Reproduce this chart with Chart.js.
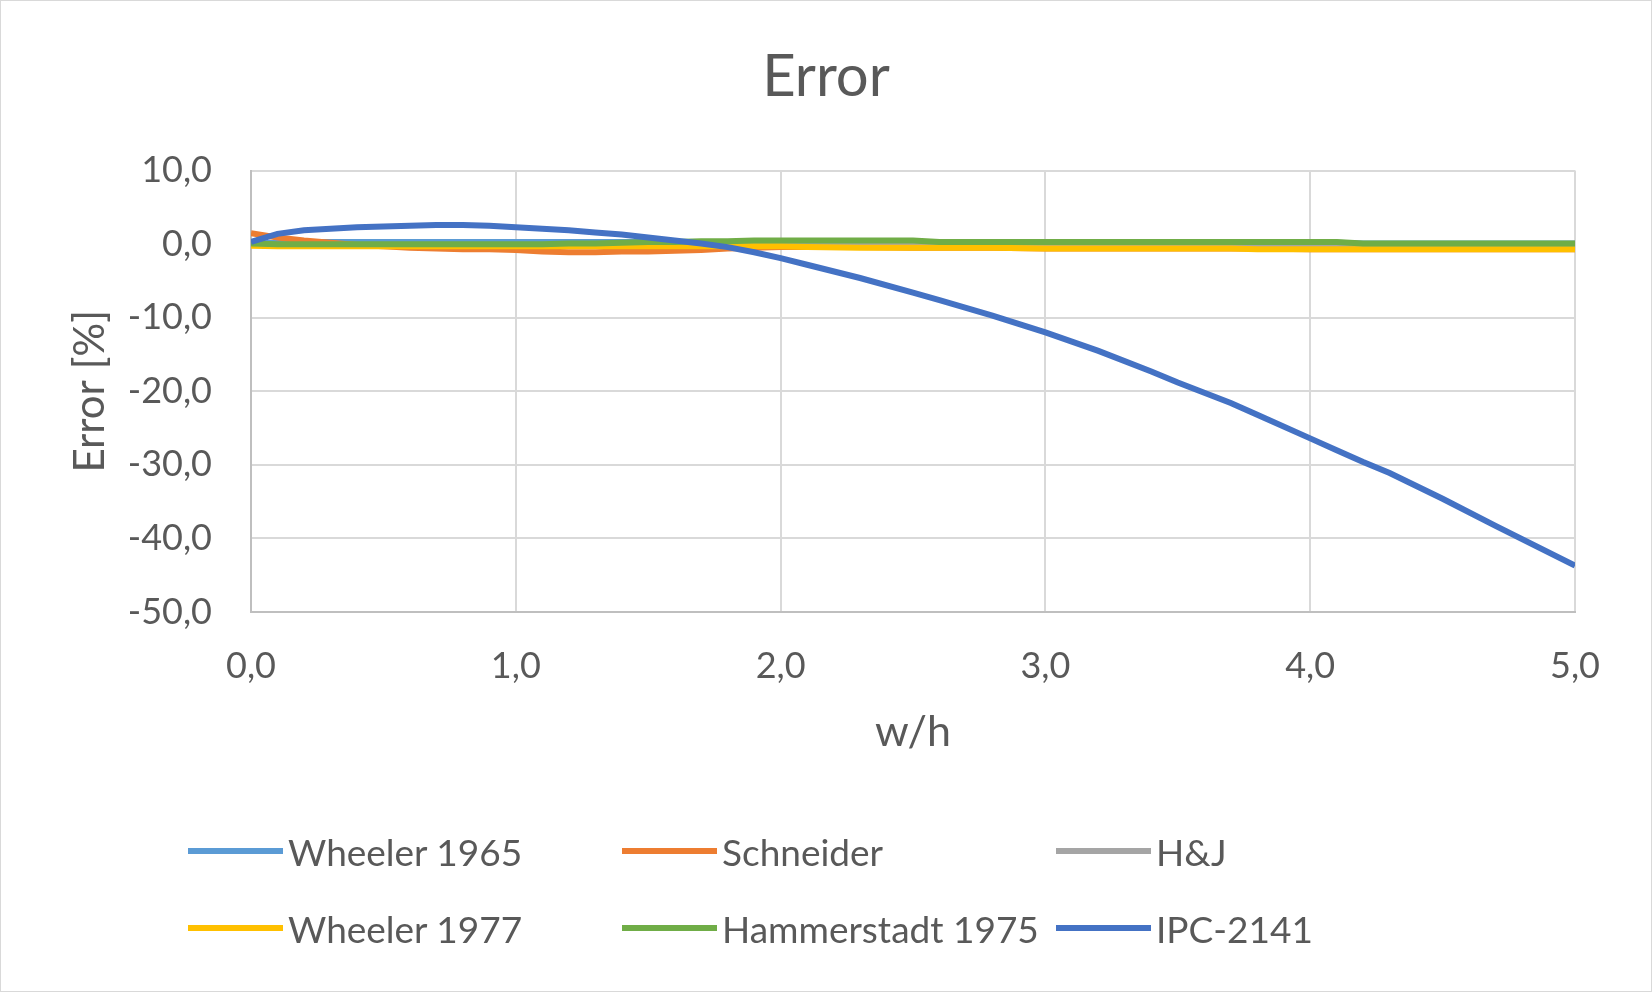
<!DOCTYPE html>
<html>
<head>
<meta charset="utf-8">
<script src="https://cdn.jsdelivr.net/npm/chart.js@4.4.1/dist/chart.umd.min.js"></script>
<style>
	html, body { margin: 0; padding: 0; background: #fff; }
	#wrap { position: relative; width: 1652px; height: 992px; overflow: hidden; }
	#frame { position: absolute; left: 0; top: 0; width: 1650px; height: 990px; border: 1px solid #d9d9d9; pointer-events: none; }
	#legend { position: absolute; left: 0; top: 0; width: 1652px; height: 992px; pointer-events: none;
		font-family: Lato, 'Open Sans', sans-serif; font-size: 37px; color: #595959; }
	.item { position: absolute; display: flex; align-items: center; height: 46px; white-space: nowrap; }
	.swatch { display: inline-block; width: 95px; height: 6px; margin-right: 5px; }
</style>
</head>
<body>
<div id="wrap">
	<canvas id="errorChart"></canvas>
	<div id="legend"></div>
	<div id="frame"></div>
</div>
<script>
// w/h sample points
const xs = [0, 0.1, 0.2, 0.3, 0.4, 0.5, 0.6, 0.7, 0.8, 0.9, 1.0, 1.1, 1.2, 1.3, 1.4, 1.5, 1.6, 1.7, 1.8, 1.9,
	2.0, 2.1, 2.3, 2.5, 2.6, 2.8, 3.0, 3.2, 3.4, 3.5, 3.7, 3.8, 4.0, 4.1, 4.2, 4.3, 4.5, 4.7, 5.0];

// error [%] per formula
const wheeler1965 = [0.1, 0.2, 0.3, 0.3, 0.3, 0.3, 0.3, 0.3, 0.3, 0.3, 0.3, 0.3, 0.3, 0.3, 0.3, 0.3, 0.3, 0.3, 0.3, 0.3,
	0.3, 0.3, 0.3, 0.3, 0.2, 0.2, 0.2, 0.2, 0.2, 0.2, 0.2, 0.2, 0.2, 0.2, 0.1, 0.1, 0.1, 0.1, 0.1];
const schneider = [1.5, 0.9, 0.5, 0.2, -0.1, -0.3, -0.5, -0.6, -0.7, -0.7, -0.8, -1.0, -1.1, -1.1, -1.0, -1.0, -0.9, -0.8, -0.6, -0.5,
	-0.4, -0.4, -0.4, -0.5, -0.5, -0.5, -0.6, -0.6, -0.6, -0.6, -0.6, -0.6, -0.7, -0.7, -0.7, -0.7, -0.7, -0.7, -0.7];
const hj = [-0.1, -0.1, -0.1, -0.1, -0.1, -0.1, -0.1, -0.1, -0.1, -0.1, -0.1, -0.1, -0.1, -0.1, -0.1, -0.1, 0.1, 0.1, 0.1, 0.1,
	0.1, 0.1, 0.1, 0.1, 0.0, 0.0, 0.0, 0.0, 0.0, 0.0, 0.0, 0.0, 0.0, 0.0, 0.0, 0.0, 0.0, 0.0, 0.0];
const wheeler1977 = [-0.2, -0.3, -0.3, -0.3, -0.3, -0.3, -0.3, -0.3, -0.3, -0.3, -0.3, -0.3, -0.3, -0.3, -0.3, -0.3, -0.3, -0.3, -0.3, -0.3,
	-0.3, -0.4, -0.5, -0.5, -0.5, -0.5, -0.6, -0.6, -0.6, -0.6, -0.6, -0.7, -0.7, -0.7, -0.7, -0.7, -0.7, -0.7, -0.7];
const hammerstadt1975 = [0.1, 0.0, 0.0, 0.0, 0.0, 0.0, 0.0, 0.0, 0.0, 0.0, 0.0, 0.0, 0.1, 0.1, 0.2, 0.3, 0.3, 0.4, 0.4, 0.5,
	0.5, 0.5, 0.5, 0.5, 0.3, 0.3, 0.3, 0.3, 0.3, 0.3, 0.3, 0.3, 0.3, 0.3, 0.1, 0.1, 0.1, 0.1, 0.1];
const ipc2141 = [0.3, 1.4, 1.9, 2.1, 2.3, 2.4, 2.5, 2.6, 2.6, 2.5, 2.3, 2.1, 1.9, 1.6, 1.3, 0.9, 0.5, 0.1, -0.4, -1.1,
	-1.9, -2.8, -4.6, -6.6, -7.6, -9.7, -12.0, -14.5, -17.3, -18.8, -21.6, -23.2, -26.4, -28.0, -29.6, -31.1, -34.6, -38.3, -43.7];

const seriesNames = ['Wheeler 1965', 'Schneider', 'H&J', 'Wheeler 1977', 'Hammerstadt 1975', 'IPC-2141'];
const seriesValues = [wheeler1965, schneider, hj, wheeler1977, hammerstadt1975, ipc2141];
const seriesColors = ['#5b9bd5', '#ed7d31', '#a5a5a5', '#ffc000', '#70ad47', '#4472c4'];

const yTicks = [10, 0, -10, -20, -30, -40, -50];
const xTicks = [0, 1, 2, 3, 4, 5];

const textColor = '#595959';
const fontFamily = 'Lato, "Open Sans", sans-serif';
const fmt = (v) => Number(v).toFixed(1).replace('.', ',');

function renderErrorChart() {
	const canvas = document.getElementById('errorChart');
	if (!canvas) return;

	const datasets = seriesNames.map((name, i) => ({
		label: name,
		data: xs.map((x, j) => ({ x, y: seriesValues[i][j] })),
		borderColor: seriesColors[i],
		backgroundColor: seriesColors[i],
		borderWidth: 6,
		pointRadius: 0,
		tension: 0,
		fill: false,
		// later series on top, like the spreadsheet
		order: seriesNames.length - i,
	}));

	new Chart(canvas.getContext('2d'), {
		type: 'line',
		data: { datasets },
		options: {
			responsive: true,
			maintainAspectRatio: false,
			animation: false,
			layout: { padding: { left: 77, right: 77, top: 0, bottom: 234 } },
			plugins: {
				legend: { display: false },
				tooltip: { enabled: false },
				title: {
					display: true,
					text: 'Error',
					color: textColor,
					font: { family: fontFamily, size: 58, weight: 'normal' },
					padding: { top: 42, bottom: 59 },
				},
			},
			scales: {
				x: {
					type: 'linear',
					min: xTicks[0],
					max: xTicks[xTicks.length - 1],
					afterBuildTicks: (s) => { s.ticks = xTicks.map((v) => ({ value: v })); },
					afterFit: (s) => { s.height = 146; },
					ticks: {
						callback: (v) => fmt(v),
						color: textColor,
						font: { family: fontFamily, size: 36 },
						padding: 33,
						maxRotation: 0,
					},
					grid: { color: '#d9d9d9', lineWidth: 2, drawTicks: false },
					border: { color: '#bfbfbf', width: 2 },
					title: {
						display: true,
						text: 'w/h',
						color: textColor,
						font: { family: fontFamily, size: 43 },
						padding: { top: 0, bottom: 0 },
					},
				},
				y: {
					min: yTicks[yTicks.length - 1],
					max: yTicks[0],
					afterBuildTicks: (s) => { s.ticks = yTicks.slice().reverse().map((v) => ({ value: v })); },
					afterFit: (s) => { s.width = 174; },
					ticks: {
						callback: (v) => fmt(v),
						color: textColor,
						font: { family: fontFamily, size: 36 },
						padding: 39,
					},
					grid: { color: '#d9d9d9', lineWidth: 2, drawTicks: false },
					border: { color: '#bfbfbf', width: 2 },
					title: {
						display: true,
						text: 'Error [%]',
						color: textColor,
						font: { family: fontFamily, size: 42 },
						padding: { top: -12, bottom: 0 },
					},
				},
			},
		},
	});

	// legend laid out in a 3 x 2 grid
	const legend = document.getElementById('legend');
	const colX = [188, 622, 1056];
	const rowY = [851, 928];
	seriesNames.forEach((name, i) => {
		const item = document.createElement('div');
		item.className = 'item';
		item.style.left = colX[i % 3] + 'px';
		item.style.top = (rowY[Math.floor(i / 3)] - 23) + 'px';
		const sw = document.createElement('span');
		sw.className = 'swatch';
		sw.style.background = seriesColors[i];
		const tx = document.createElement('span');
		tx.textContent = name;
		item.appendChild(sw);
		item.appendChild(tx);
		legend.appendChild(item);
	});
}

renderErrorChart();
</script>
</body>
</html>
